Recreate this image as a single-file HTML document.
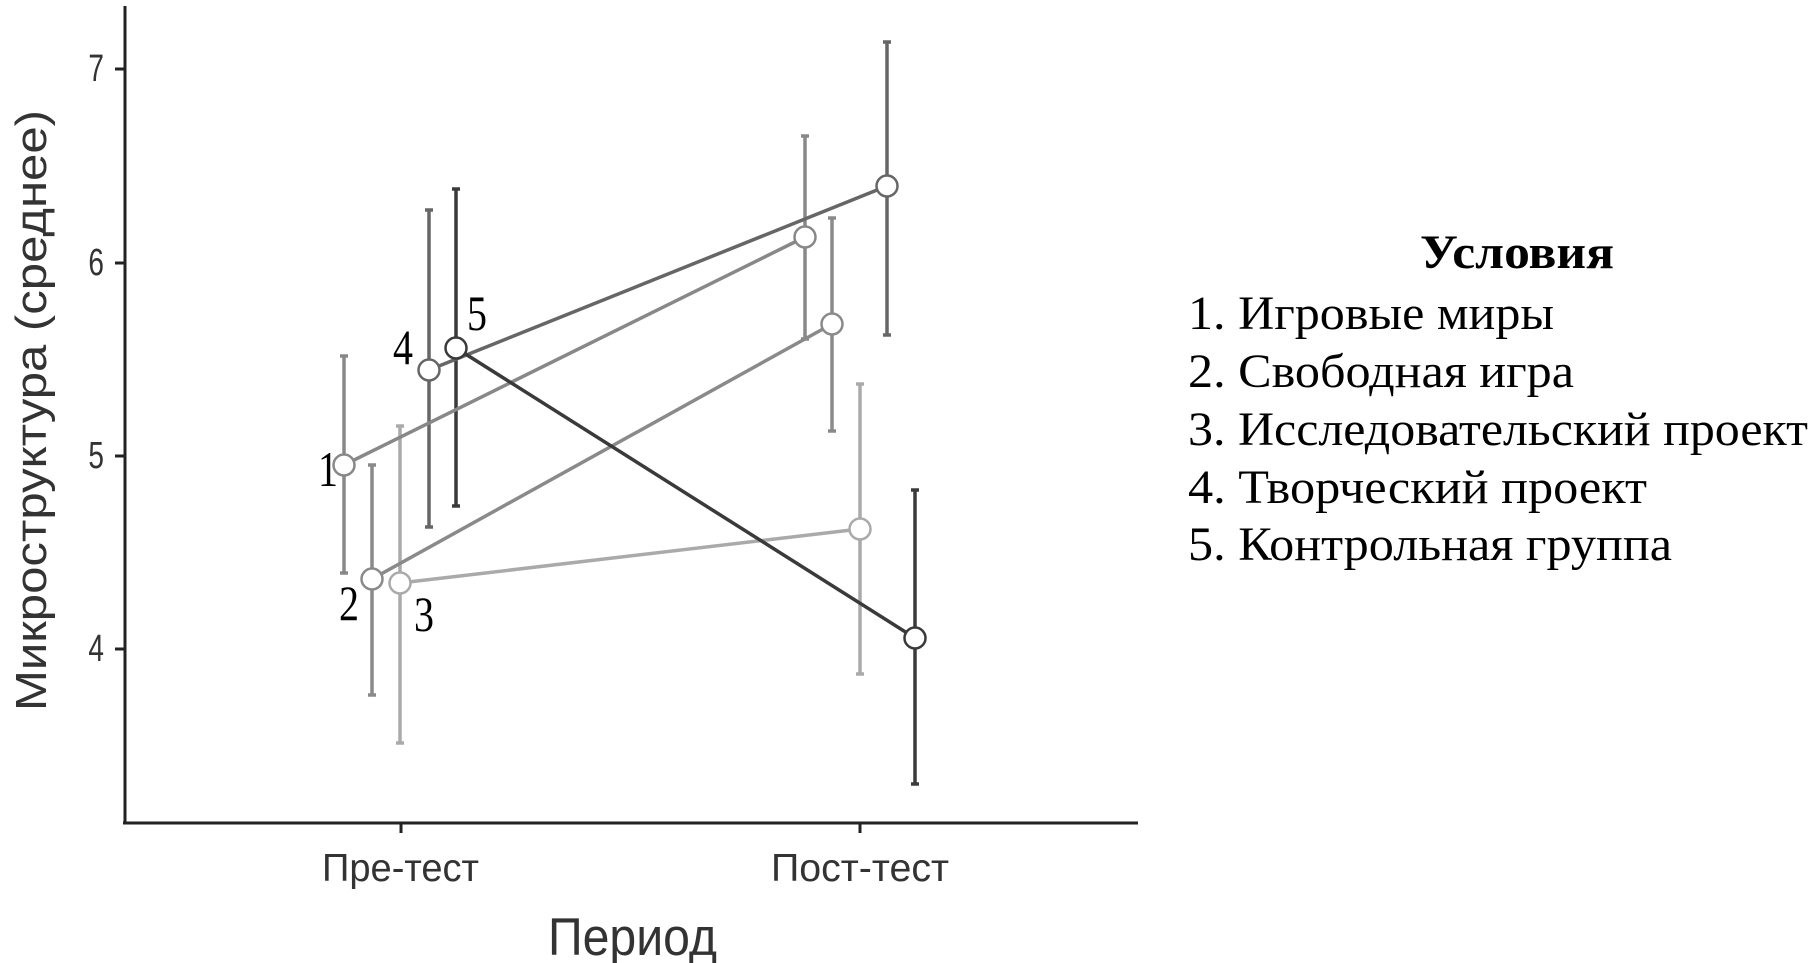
<!DOCTYPE html>
<html><head><meta charset="utf-8"><style>html,body{margin:0;padding:0;background:#fff}svg{display:block}</style></head>
<body>
<svg width="1812" height="963" viewBox="0 0 1812 963" xmlns="http://www.w3.org/2000/svg">
<g stroke="#222" stroke-width="3" fill="none">
<line x1="125" y1="6" x2="125" y2="824"/>
<line x1="123" y1="823" x2="1138" y2="823"/>
<line x1="401" y1="823" x2="401" y2="833"/>
<line x1="860" y1="823" x2="860" y2="833"/>
<line x1="115" y1="69" x2="125" y2="69"/>
<line x1="115" y1="263" x2="125" y2="263"/>
<line x1="115" y1="456" x2="125" y2="456"/>
<line x1="115" y1="649" x2="125" y2="649"/>
</g>
<g font-family="Liberation Sans, DejaVu Sans, sans-serif" fill="#333" font-size="28" text-anchor="end">
<text transform="translate(104,81) scale(1,1.35)">7</text>
<text transform="translate(104,275) scale(1,1.35)">6</text>
<text transform="translate(104,468) scale(1,1.35)">5</text>
<text transform="translate(104,661) scale(1,1.35)">4</text>
</g>
<g font-family="Liberation Sans, DejaVu Sans, sans-serif" fill="#333" font-size="31">
<text transform="translate(322,881) scale(1,1.25)" textLength="157" lengthAdjust="spacingAndGlyphs">Пре-тест</text>
<text transform="translate(771,881) scale(1,1.25)" textLength="178" lengthAdjust="spacingAndGlyphs">Пост-тест</text>
<text transform="translate(548,955) scale(1,1.15)" font-size="46" textLength="169" lengthAdjust="spacingAndGlyphs">Период</text>
<text transform="translate(46,711) rotate(-90)" font-size="44" textLength="601" lengthAdjust="spacingAndGlyphs">Микроструктура (среднее)</text>
</g>
<!-- error bars -->
<g stroke-width="3.5" fill="none">
<g stroke="#888"><line x1="344" y1="356" x2="344" y2="573"/><line x1="340" y1="356" x2="348" y2="356"/><line x1="340" y1="573" x2="348" y2="573"/>
<line x1="805" y1="136" x2="805" y2="339"/><line x1="801" y1="136" x2="809" y2="136"/><line x1="801" y1="339" x2="809" y2="339"/></g>
<g stroke="#8a8a8a"><line x1="372" y1="465" x2="372" y2="695"/><line x1="368" y1="465" x2="376" y2="465"/><line x1="368" y1="695" x2="376" y2="695"/>
<line x1="832" y1="218" x2="832" y2="431"/><line x1="828" y1="218" x2="836" y2="218"/><line x1="828" y1="431" x2="836" y2="431"/></g>
<g stroke="#aaa"><line x1="400" y1="426" x2="400" y2="743"/><line x1="396" y1="426" x2="404" y2="426"/><line x1="396" y1="743" x2="404" y2="743"/>
<line x1="860" y1="384" x2="860" y2="674"/><line x1="856" y1="384" x2="864" y2="384"/><line x1="856" y1="674" x2="864" y2="674"/></g>
<g stroke="#666"><line x1="429" y1="210" x2="429" y2="527"/><line x1="425" y1="210" x2="433" y2="210"/><line x1="425" y1="527" x2="433" y2="527"/>
<line x1="887" y1="42" x2="887" y2="335"/><line x1="883" y1="42" x2="891" y2="42"/><line x1="883" y1="335" x2="891" y2="335"/></g>
<g stroke="#3a3a3a"><line x1="456" y1="189" x2="456" y2="506"/><line x1="452" y1="189" x2="460" y2="189"/><line x1="452" y1="506" x2="460" y2="506"/>
<line x1="915" y1="490" x2="915" y2="784"/><line x1="911" y1="490" x2="919" y2="490"/><line x1="911" y1="784" x2="919" y2="784"/></g>
</g>
<!-- lines -->
<g stroke-width="3.5" fill="none">
<line x1="344" y1="465" x2="805" y2="237" stroke="#888"/>
<line x1="372" y1="579" x2="832" y2="324" stroke="#8a8a8a"/>
<line x1="400" y1="583" x2="860" y2="529" stroke="#aaa"/>
<line x1="429" y1="370" x2="887" y2="186" stroke="#666"/>
<line x1="456" y1="348" x2="915" y2="638" stroke="#3a3a3a"/>
</g>
<g fill="#fff" stroke-width="2.5">
<circle cx="344" cy="465" r="10.5" stroke="#888"/><circle cx="805" cy="237" r="10.5" stroke="#888"/>
<circle cx="372" cy="579" r="10.5" stroke="#8a8a8a"/><circle cx="832" cy="324" r="10.5" stroke="#8a8a8a"/>
<circle cx="400" cy="583" r="10.5" stroke="#aaa"/><circle cx="860" cy="529" r="10.5" stroke="#aaa"/>
<circle cx="429" cy="370" r="10.5" stroke="#666"/><circle cx="887" cy="186" r="10.5" stroke="#666"/>
<circle cx="456" cy="348" r="10.5" stroke="#3a3a3a"/><circle cx="915" cy="638" r="10.5" stroke="#3a3a3a"/>
</g>
<g font-family="Liberation Serif, DejaVu Serif, serif" fill="#000" font-size="40" text-anchor="middle">
<text transform="translate(328,486) scale(1,1.25)">1</text>
<text transform="translate(349,620) scale(1,1.25)">2</text>
<text transform="translate(424,631) scale(1,1.25)">3</text>
<text transform="translate(403,364) scale(1,1.25)">4</text>
<text transform="translate(477,330) scale(1,1.25)">5</text>
</g>
<g font-family="Liberation Serif, DejaVu Serif, serif" fill="#000" font-size="48">
<text x="1420" y="268" font-weight="bold" textLength="194" lengthAdjust="spacingAndGlyphs">Условия</text>
<text x="1188" y="329" textLength="366" lengthAdjust="spacingAndGlyphs">1. Игровые миры</text>
<text x="1188" y="387" textLength="386" lengthAdjust="spacingAndGlyphs">2. Свободная игра</text>
<text x="1188" y="445" textLength="620" lengthAdjust="spacingAndGlyphs">3. Исследовательский проект</text>
<text x="1188" y="503" textLength="459" lengthAdjust="spacingAndGlyphs">4. Творческий проект</text>
<text x="1188" y="560" textLength="484" lengthAdjust="spacingAndGlyphs">5. Контрольная группа</text>
</g>
</svg>
</body></html>
